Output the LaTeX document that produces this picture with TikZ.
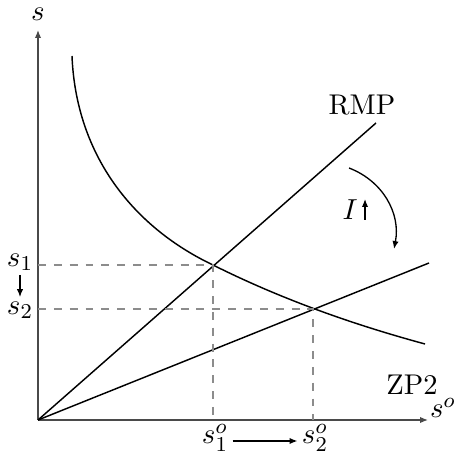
\documentclass[tikz,border=0pt]{standalone}
\usepackage{amsmath}
\usepackage{tikz}
\usetikzlibrary{arrows.meta,calc,positioning}
\definecolor{axisgray}{HTML}{4A4A4A}
\definecolor{guidegray}{HTML}{8C8C8C}
\tikzset{
  axisline/.style={axisgray, -{Latex[length=3pt,width=2.4pt]}, line width=0.5pt},
  curveline/.style={black, line width=0.55pt},
  guide/.style={guidegray, dashed, line width=0.45pt},
  movearrow/.style={black, -{Latex[length=3pt,width=2.4pt]}, line width=0.5pt},
  lab/.style={inner sep=1.5pt, font=\fontsize{10.8}{13}\selectfont}
}

\begin{document}
\begin{tikzpicture}[x=0.0133cm, y=0.0133cm]
  \useasboundingbox (-38,-36) rectangle (418,420);
  % axes
  \coordinate (O) at (0,0);
  \coordinate (ytop) at (0,390);
  \coordinate (xend) at (390,0);
  \draw[axisline] (O) -- (ytop);
  \draw[axisline] (O) -- (xend);
  \node[lab] (ylab) at (0,406) {$s$};
  \node[lab] (xlab) at (405,12) {$s^{o}$};
  % the two straight lines
  \coordinate (rmpend) at (338,297);
  \coordinate (lowend) at (391,157);
  \draw[curveline] (O) -- (rmpend);
  \draw[curveline] (O) -- (lowend);
  \node[lab] (rmp) at (324,315) {RMP};
  % equilibria
  \coordinate (P1) at (175,155);
  \coordinate (P2) at (275,111);
  % ZP2 curve
  \coordinate (zpstart) at (34,364);
  \coordinate (zpend) at (387,76);
  \draw[curveline] (zpstart) .. controls (38,265) and (95,193) .. (P1)
                   .. controls (245,120) and (317,95) .. (zpend);
  \node[lab] (zp) at (374,35) {ZP2};
  \draw[guide] (0,155) -- (P1) -- (175,0);
  \draw[guide] (0,111) -- (P2) -- (275,0);
  \node[lab] (s1) at (-18,158) {$s_1$};
  \node[lab] (s2) at (-18,110) {$s_2$};
  \draw[movearrow] (s1) -- (s2);
  \node[lab] (s1o) at (177,-18) {$s_1^{o}$};
  \node[lab] (s2o) at (277,-18) {$s_2^{o}$};
  \draw[movearrow] ($(s1o.east)+(0,-3)$) -- ($(s2o.west)+(0,-3)$);
  % shift of the line
  \coordinate (bendstart) at (311,252);
  \coordinate (bendend) at (356,171);
  \draw[movearrow] (bendstart) to[bend left=40] (bendend);
  \node[lab] (inc) at (312,210) {$I$};
  \coordinate (incfoot) at (327,200);
  \coordinate (inctip) at (327,221);
  \draw[movearrow] (incfoot) -- (inctip);
\end{tikzpicture}
\end{document}
